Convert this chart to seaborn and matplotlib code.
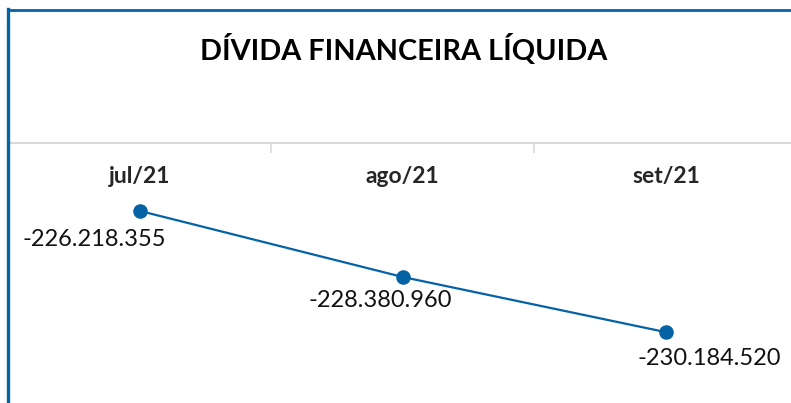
import matplotlib
matplotlib.use("Agg")
import matplotlib.pyplot as plt
import seaborn as sns
from matplotlib.lines import Line2D

# data
months = ['jul/21', 'ago/21', 'set/21']
divida = [-226218355, -228380960, -230184520]
labels = ['-226.218.355', '-228.380.960', '-230.184.520']

blue = '#0563a5'
grid_gray = '#d9d9d9'

sns.set_style("white")
plt.rcParams['font.family'] = ['Lato', 'DejaVu Sans']

W, H = 791, 403
fig = plt.figure(figsize=(W / 100, H / 100), dpi=100)

# plot area: from the gray line (y=143) down to the bottom
ax = fig.add_axes([8 / W, 0, (W - 8) / W, (H - 143) / H])
sns.lineplot(x=months, y=divida, ax=ax, color=blue, linewidth=1.6,
             marker='o', markersize=10.5, markeredgewidth=0, sort=False)

ax.set_xlim(-0.5, 2.475)
ax.set_ylim(-232.5e6, -224.0e6)
ax.set_yticks([])
ax.set_xlabel('')
ax.set_ylabel('')

for side in ['left', 'right', 'bottom']:
    ax.spines[side].set_visible(False)
ax.spines['top'].set_color(grid_gray)
ax.spines['top'].set_linewidth(1.5)

ax.xaxis.set_ticks_position('top')
ax.set_xticks(range(len(months)))
ax.set_xticklabels(months, fontsize=16.5, fontweight='bold')
ax.set_xticks([0.5, 1.5], minor=True)
ax.tick_params(axis='x', which='major', length=0, pad=-32, labeltop=True, labelbottom=False)
ax.tick_params(axis='x', which='minor', length=7, width=1.2, color=grid_gray, direction='in')

# data labels, placed by hand like in the original
offsets = [(-45, -29), (-23, -23), (43, -26)]
for i, (lab, off) in enumerate(zip(labels, offsets)):
    ax.annotate(lab, (i, divida[i]), xytext=(off[0] * 0.72, off[1] * 0.72),
                textcoords='offset points', ha='center', va='center',
                fontsize=17, color='#111111')

fig.text(404 / W, 1 - 50 / H, 'DÍVIDA FINANCEIRA LÍQUIDA', ha='center', va='center',
         fontsize=20.8, fontweight='bold', color='black')

# blue border (left and top)
fig.add_artist(Line2D([7.5 / W, 7.5 / W], [0, 1 - 9 / H], color=blue, linewidth=2.4,
                      transform=fig.transFigure, solid_capstyle='projecting'))
fig.add_artist(Line2D([7.5 / W, 1], [1 - 10 / H, 1 - 10 / H], color=blue, linewidth=2.0,
                      transform=fig.transFigure))

fig.savefig('out.png', dpi=100)
